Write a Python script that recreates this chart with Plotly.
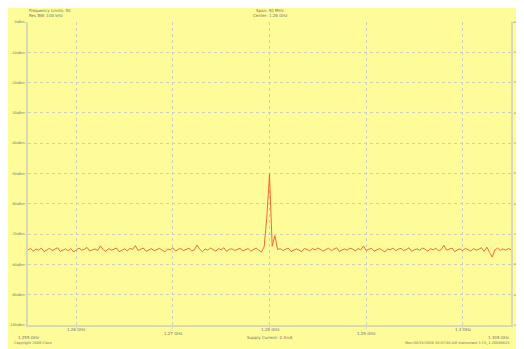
import numpy as np
import plotly.graph_objects as go

# ---- data ----
f_start_ghz = 1.255
f_stop_ghz = 1.305
level_dbm = [
    -75.2, -74.8, -75.6, -74.9, -75.3, -74.6, -75.8, -75.1, -74.7, -75.4,
    -75.0, -74.5, -75.7, -75.2, -74.9, -75.5, -74.8, -75.9, -75.1, -74.6,
    -75.3, -75.0, -74.4, -75.6, -75.2, -74.9, -75.4, -73.9, -75.1, -75.7,
    -74.8, -75.3, -75.0, -74.6, -75.8, -75.2, -74.9, -75.5, -74.7, -75.1,
    -73.8, -75.4, -75.0, -74.6, -75.7, -75.2, -74.8, -75.5, -75.1, -74.7,
    -75.3, -75.9, -74.9, -75.2, -74.5, -75.6, -75.0, -74.8, -75.4, -75.1,
    -74.7, -75.5, -75.2, -73.6, -75.0, -75.8, -74.9, -75.3, -74.6, -75.1,
    -75.6, -74.8, -75.2, -74.5, -75.7, -75.0, -74.9, -75.4, -75.1, -74.7,
    -75.5, -75.2, -74.8, -75.6, -75.0, -74.6, -75.3, -75.9, -74.2, -64.5,
    -50.2, -74.0, -70.5, -75.1, -74.8, -75.4, -75.0, -74.6, -75.7, -75.2,
    -74.9, -75.3, -75.8, -74.7, -75.1, -75.5, -74.8, -75.2, -74.6, -75.0,
    -75.6, -75.1, -74.7, -75.4, -75.0, -74.5, -75.7, -75.2, -74.9, -75.3,
    -74.6, -75.0, -75.5, -74.8, -75.2, -73.9, -75.4, -75.0, -74.7, -75.6,
    -75.1, -74.8, -75.3, -75.9, -74.9, -75.2, -74.6, -75.5, -75.0, -74.7,
    -75.4, -75.1, -74.5, -75.7, -75.2, -74.9, -75.3, -74.6, -75.0, -75.6,
    -74.8, -75.2, -74.7, -75.5, -75.1, -73.7, -75.3, -75.0, -74.6, -75.8,
    -75.2, -74.9, -75.4, -74.7, -75.1, -75.6, -74.8, -75.3, -75.0, -74.5,
    -75.7, -74.3, -76.0, -77.6, -75.2, -74.6, -75.4, -74.9, -75.3, -74.8,
    -75.1,
]
freq_ghz = list(np.linspace(f_start_ghz, f_stop_ghz, len(level_dbm)))

x_tick_vals = [1.255, 1.26, 1.27, 1.28, 1.29, 1.30, 1.305]
x_tick_text = ["1.255 GHz", "1.26 GHz", "1.27 GHz", "1.28 GHz", "1.29 GHz", "1.3 GHz", "1.305 GHz"]
y_tick_vals = [0, -10, -20, -30, -40, -50, -60, -70, -80, -90, -100]
y_tick_text = ["0dBm", "-10dBm", "-20dBm", "-30dBm", "-40dBm", "-50dBm",
               "-60dBm", "-70dBm", "-80dBm", "-90dBm", "-100dBm"]

header_left = ["Frequency Limits: 50", "Res BW: 100 kHz"]
header_center = ["Span: 50 MHz", "Center: 1.28 GHz"]
footer_center = "Supply Current: 2.4mA"
footer_left = "Copyright 2008 Cisco"
footer_right = "Mon 06/15/2009 10:07:00 AM Instrument 1 Ch_1.20090615"

# ---- style ----
BG = "#FEFC98"
GRID = "#CFCFBA"
AXIS = "#DADAB2"
TXT = "#707070"
TRACE = "#F25A2A"
FS = 4

fig = go.Figure()
fig.add_trace(go.Scatter(x=freq_ghz, y=level_dbm, mode="lines",
                         line=dict(color=TRACE, width=0.9), showlegend=False))
# invisible trace for right axis
fig.add_trace(go.Scatter(x=[freq_ghz[0]], y=[level_dbm[0]], yaxis="y2",
                         mode="markers", marker=dict(opacity=0), showlegend=False,
                         hoverinfo="skip"))

fig.update_layout(
    width=516, height=341,
    margin=dict(l=20, r=13, t=14, b=24, autoexpand=False),
    paper_bgcolor=BG, plot_bgcolor=BG,
    font=dict(family="DejaVu Sans", size=FS, color=TXT),
    xaxis=dict(range=[f_start_ghz, f_stop_ghz], tickvals=x_tick_vals[1:-1],
               showticklabels=False, ticks="outside", ticklen=2, tickcolor=AXIS,
               showgrid=True, gridcolor=GRID, griddash="dot", gridwidth=0.8,
               showline=True, linecolor=AXIS, linewidth=1.5, zeroline=False,
               automargin=False),
    yaxis=dict(range=[-100, 0], tickvals=y_tick_vals, ticktext=y_tick_text,
               ticks="outside", ticklen=1, tickcolor=AXIS,
               showgrid=True, gridcolor=GRID, griddash="dot", gridwidth=0.8,
               showline=True, linecolor=AXIS, linewidth=1.5, zeroline=False,
               tickfont=dict(size=3.4, color=TXT), automargin=False),
    yaxis2=dict(range=[-100, 0], tickvals=y_tick_vals, ticktext=y_tick_text,
                overlaying="y", side="right", ticks="", ticklabelstandoff=0,
                showgrid=False, showline=True, linecolor=AXIS,
                linewidth=1.5, zeroline=False, tickfont=dict(size=2.4, color=TXT),
                automargin=False),
)

# x tick labels in staggered rows
n = len(x_tick_vals)
for i, (v, t) in enumerate(zip(x_tick_vals, x_tick_text)):
    row = 2 if i in (0, n - 1) else (i + 1) % 2
    anchor = "right" if i == n - 1 else "center"
    fig.add_annotation(x=v, y=0, xref="x", yref="paper", text=t, showarrow=False,
                       yanchor="middle", xanchor=anchor, yshift=-4 - 4 * row,
                       font=dict(size=FS, color=TXT))

for j, t in enumerate(header_left):
    fig.add_annotation(x=0, y=1, xref="paper", yref="paper", text=t, showarrow=False,
                       xanchor="left", yanchor="middle", xshift=-1, yshift=12 - 5 * j,
                       font=dict(size=FS, color=TXT))
for j, t in enumerate(header_center):
    fig.add_annotation(x=1.28, y=1, xref="x", yref="paper", text=t, showarrow=False,
                       xanchor="center", yanchor="middle", yshift=12 - 5 * j,
                       font=dict(size=FS, color=TXT))

fig.add_annotation(x=1.28, y=0, xref="x", yref="paper", text=footer_center,
                   showarrow=False, yanchor="middle", yshift=-12,
                   font=dict(size=FS, color=TXT))
fig.add_annotation(x=0, y=0, xref="paper", yref="paper", text=footer_left,
                   showarrow=False, xanchor="left", yanchor="middle", xshift=-16,
                   yshift=-18, font=dict(size=FS - 0.5, color=TXT))
fig.add_annotation(x=1, y=0, xref="paper", yref="paper", text=footer_right,
                   showarrow=False, xanchor="right", yanchor="middle",
                   yshift=-18, font=dict(size=FS - 0.5, color=TXT))

fig.write_html("out.html")
